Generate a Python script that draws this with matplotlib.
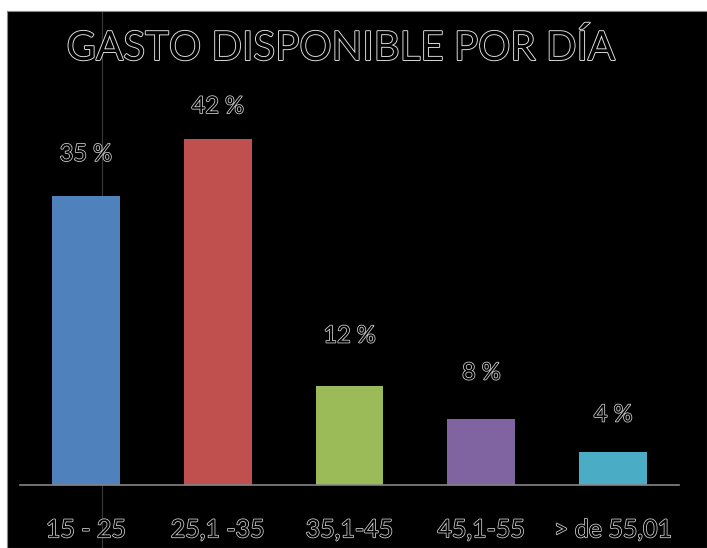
import matplotlib.pyplot as plt
import matplotlib.patheffects as pe

# data
categories = ['15 - 25', '25,1 -35', '35,1-45', '45,1-55', '> de 55,01']
percentages = [35, 42, 12, 8, 4]
colors = ['#4F81BD', '#C0504D', '#9BBB59', '#8064A2', '#4BACC6']
title = 'GASTO DISPONIBLE POR DÍA'

# the labels were placed by hand, at different heights above each bar (pixels)
label_offsets = [42, 32, 50, 46, 37]

plt.rcParams['font.family'] = ['Lato', 'DejaVu Sans']

# hollow (outlined) text like the original
outline = [pe.withStroke(linewidth=1.1, foreground='#d8d8d8')]
outline_big = [pe.withStroke(linewidth=1.3, foreground='#e8e8e8')]

fig = plt.figure(figsize=(7.07, 5.48), dpi=100, facecolor='white')
W, H = 707, 548

# black panel as a background axes
bg = fig.add_axes([7 / W, 0, 1 - 7 / W, 1 - 11 / H], zorder=0)
bg.set_facecolor('black')
bg.set_xticks([])
bg.set_yticks([])
for s in bg.spines.values():
    s.set_color('#888888')
    s.set_linewidth(0.8)
bg.set_xlim(0, 1)
bg.set_ylim(0, 1)
lx = (102 - 7) / (W - 7)
bg.plot([lx, lx], [0, 1], color='#3a3a3a', linewidth=0.8)

ax = fig.add_axes([20 / W, 1 - 485 / H, 659 / W, 371 / H], zorder=1)
ax.set_facecolor('none')
x = range(len(categories))
ax.bar(x, percentages, width=0.515, color=colors, zorder=2)
ax.set_xlim(-0.5, 4.5)
ax.set_ylim(0, 45)

for i, v in enumerate(percentages):
    ax.annotate(f'{v} %', (i, v), xytext=(0, label_offsets[i] * 0.72), textcoords='offset points',
                ha='center', va='center', fontsize=17, color='black',
                path_effects=outline, annotation_clip=False)

for s in ['top', 'right', 'left']:
    ax.spines[s].set_visible(False)
ax.spines['bottom'].set_color('#868686')
ax.spines['bottom'].set_linewidth(1.2)
ax.set_yticks([])
ax.set_xticks(list(x))
ax.set_xticklabels(categories, fontsize=18, color='black')
for lbl in ax.get_xticklabels():
    lbl.set_path_effects(outline)
ax.tick_params(axis='x', length=0, pad=24)

fig.text(340 / W, 1 - 48 / H, title, ha='center', va='center', fontsize=29,
         color='black', path_effects=outline_big, zorder=3)

plt.savefig('out.png', dpi=100, facecolor='white')
